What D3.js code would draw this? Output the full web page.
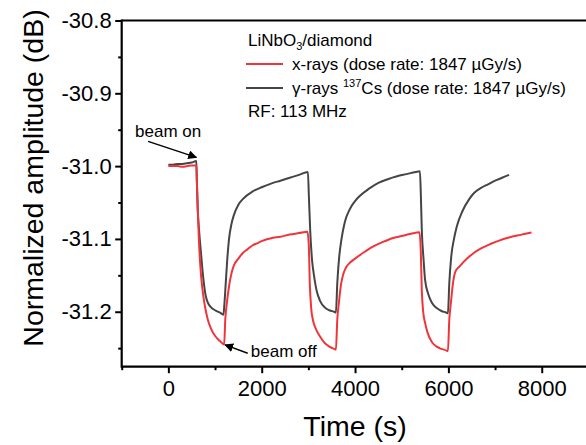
<!DOCTYPE html>
<html>
<head>
<meta charset="utf-8">
<script src="https://cdn.jsdelivr.net/npm/d3@7/dist/d3.min.js"></script>
<style>
  html, body { margin: 0; padding: 0; background: #fff; }
  svg { display: block; font-family: "Liberation Sans", Arial, sans-serif; }
</style>
</head>
<body>
<svg id="chart" width="586" height="445"></svg>
<script>
// ---- data ----
const xrayTime = [0,100,200,300,400,500,600,
  610,630,660,700,750,800,850,900,950,1000,1050,1100,1150,1195,
  1220,1250,1300,1350,1400,1500,1600,1700,1800,1900,2000,2200,2400,2600,2800,2980,
  3010,3030,3060,3100,3150,3250,3350,3450,3550,3590,
  3620,3650,3700,3750,3800,3900,4000,4200,4400,4600,4800,5000,5200,5380,
  5410,5430,5460,5500,5550,5650,5750,5850,5950,5990,
  6020,6050,6100,6150,6250,6400,6550,6700,6900,7100,7300,7500,7650,7780];
const xrayValue = [-31.000,-31.000,-31.000,-31.001,-31.000,-30.999,-30.999,
  -31.020,-31.060,-31.110,-31.150,-31.179,-31.198,-31.212,-31.221,-31.228,-31.233,-31.237,-31.240,-31.243,-31.245,
  -31.210,-31.190,-31.165,-31.148,-31.137,-31.127,-31.119,-31.114,-31.109,-31.106,-31.103,-31.099,-31.097,-31.094,-31.092,-31.090,
  -31.110,-31.160,-31.195,-31.212,-31.222,-31.234,-31.243,-31.248,-31.251,-31.252,
  -31.210,-31.190,-31.162,-31.148,-31.140,-31.132,-31.127,-31.118,-31.110,-31.104,-31.099,-31.096,-31.093,-31.091,
  -31.120,-31.170,-31.200,-31.215,-31.228,-31.242,-31.248,-31.251,-31.253,-31.254,
  -31.210,-31.190,-31.160,-31.145,-31.137,-31.127,-31.119,-31.113,-31.107,-31.102,-31.098,-31.095,-31.093,-31.091];

const gammaTime = [0,100,200,300,400,500,600,
  610,630,660,700,750,800,850,900,1000,1100,1180,
  1200,1230,1260,1300,1350,1400,1500,1600,1800,2000,2200,2400,2600,2800,2990,
  3010,3040,3080,3120,3180,3250,3350,3450,3550,3590,
  3620,3660,3710,3780,3880,4000,4100,4300,4500,4700,4900,5100,5300,5390,
  5410,5430,5470,5500,5570,5650,5750,5850,5950,5990,
  6020,6060,6120,6180,6300,6450,6550,6700,6850,7000,7150,7300];
const gammaValue = [-30.998,-30.998,-30.997,-30.997,-30.996,-30.995,-30.993,
  -31.020,-31.060,-31.090,-31.120,-31.155,-31.178,-31.188,-31.193,-31.198,-31.201,-31.204,
  -31.190,-31.160,-31.130,-31.100,-31.080,-31.068,-31.053,-31.045,-31.035,-31.029,-31.024,-31.020,-31.016,-31.012,-31.008,
  -31.040,-31.090,-31.130,-31.150,-31.172,-31.185,-31.194,-31.198,-31.200,-31.201,
  -31.160,-31.125,-31.100,-31.077,-31.060,-31.048,-31.041,-31.031,-31.023,-31.018,-31.014,-31.011,-31.008,-31.007,
  -31.040,-31.087,-31.130,-31.156,-31.176,-31.188,-31.195,-31.199,-31.201,-31.202,
  -31.160,-31.125,-31.100,-31.083,-31.062,-31.045,-31.037,-31.030,-31.025,-31.020,-31.016,-31.012];

const xMajorTicks = [0, 2000, 4000, 6000, 8000];
const xMinorTicks = [-1000, 1000, 3000, 5000, 7000, 9000];
const yMajorTicks = [-30.8, -30.9, -31.0, -31.1, -31.2];
const yMinorTicks = [-30.85, -30.95, -31.05, -31.15, -31.25];

const seriesNames = ["x-rays (dose rate: 1847 \u00B5Gy/s)", "\u03B3-rays ", "137", "Cs (dose rate: 1847 \u00B5Gy/s)"];

// ---- layout ----
const svg = d3.select("#chart");
const pLeft = 121.7, pRight = 588.4, pTop = 20.5, pBottom = 366.7;
const x = d3.scaleLinear().domain([-1000, 9000]).range([pLeft, pRight]);
const y = d3.scaleLinear().domain([-31.2755, -30.8]).range([pBottom, pTop]);

const RED = "#f0353a", GRAY = "#454545";
const fmtY = d => d3.format(".1f")(d).replace("\u2212", "-");

// frame: top line
svg.append("line").attr("x1", pLeft).attr("x2", pRight).attr("y1", pTop).attr("y2", pTop)
  .attr("stroke", "#000").attr("stroke-width", 2.2);

// x axis
const gx = svg.append("g").attr("transform", `translate(0,${pBottom})`);
gx.call(d3.axisBottom(x).tickValues(xMajorTicks).tickSize(6.5).tickPadding(7).tickFormat(d3.format("d")));
const gxm = svg.append("g").attr("transform", `translate(0,${pBottom})`);
gxm.call(d3.axisBottom(x).tickValues(xMinorTicks).tickSize(3.5).tickFormat(""));

// y axis
const gy = svg.append("g").attr("transform", `translate(${pLeft},0)`);
gy.call(d3.axisLeft(y).tickValues(yMajorTicks).tickSize(6.5).tickPadding(3.5).tickFormat(fmtY));
const gym = svg.append("g").attr("transform", `translate(${pLeft},0)`);
gym.call(d3.axisLeft(y).tickValues(yMinorTicks).tickSize(3.5).tickFormat(""));

[gx, gxm, gy, gym].forEach(g => {
  g.select(".domain").remove();
  g.selectAll(".tick line").attr("stroke-width", 2);
  g.selectAll("text").attr("font-size", 22).attr("font-family", '"Liberation Sans", Arial, sans-serif').attr("fill", "#000");
});
svg.append("line").attr("x1", pLeft).attr("x2", pRight).attr("y1", pBottom).attr("y2", pBottom)
  .attr("stroke", "#000").attr("stroke-width", 2.2);
svg.append("line").attr("x1", pLeft).attr("x2", pLeft).attr("y1", pTop - 1).attr("y2", pBottom + 1)
  .attr("stroke", "#000").attr("stroke-width", 2.2);

// axis titles
svg.append("text").attr("x", (pLeft + pRight) / 2).attr("y", 436).attr("text-anchor", "middle")
  .attr("font-size", 28.5).text("Time (s)");
svg.append("text").attr("transform", "translate(42.5,178) rotate(-90)").attr("text-anchor", "middle")
  .attr("font-size", 28.5).text("Normalized amplitude (dB)");

// lines
const line = d3.line().x(d => x(d[0])).y(d => y(d[1])).curve(d3.curveMonotoneX);
svg.append("path").datum(gammaTime.map((t, i) => [t, gammaValue[i]]))
  .attr("d", line).attr("fill", "none").attr("stroke", GRAY).attr("stroke-width", 2).attr("stroke-linejoin", "round");
svg.append("path").datum(xrayTime.map((t, i) => [t, xrayValue[i]]))
  .attr("d", line).attr("fill", "none").attr("stroke", RED).attr("stroke-width", 2).attr("stroke-linejoin", "round");

// annotations
const defs = svg.append("defs");
defs.append("marker").attr("id", "arr").attr("viewBox", "0 0 10 10").attr("refX", 9).attr("refY", 5)
  .attr("markerWidth", 9).attr("markerHeight", 9).attr("markerUnits", "userSpaceOnUse").attr("orient", "auto")
  .append("path").attr("d", "M0,0 L10,5 L0,10 Z").attr("fill", "#000");

const annotations = [
  { text: "beam on", tx: -714, ty: -30.96, x1: -435, y1: -30.966, x2: 600, y2: -30.988 },
  { text: "beam off", tx: 1766, ty: -31.262, x1: 1700, y1: -31.257, x2: 1215, y2: -31.2455 }
];
annotations.forEach(a => {
  svg.append("text").attr("x", x(a.tx)).attr("y", y(a.ty)).attr("font-size", 17).text(a.text);
  svg.append("line").attr("x1", x(a.x1)).attr("y1", y(a.y1)).attr("x2", x(a.x2)).attr("y2", y(a.y2))
    .attr("stroke", "#000").attr("stroke-width", 1.5).attr("marker-end", "url(#arr)");
});

// legend
const lg = svg.append("g").attr("font-size", 17);
const t0 = lg.append("text").attr("x", 248).attr("y", 46);
t0.append("tspan").text("LiNbO");
t0.append("tspan").attr("font-size", 11).attr("dy", 4).text("3");
t0.append("tspan").attr("dy", -4).text("/diamond");

lg.append("line").attr("x1", 246).attr("x2", 283).attr("y1", 64).attr("y2", 64).attr("stroke", RED).attr("stroke-width", 2);
lg.append("text").attr("x", 292).attr("y", 70).text(seriesNames[0]);

lg.append("line").attr("x1", 246).attr("x2", 283).attr("y1", 88).attr("y2", 88).attr("stroke", GRAY).attr("stroke-width", 2);
const t2 = lg.append("text").attr("x", 292).attr("y", 94);
t2.append("tspan").text(seriesNames[1]);
t2.append("tspan").attr("font-size", 11).attr("dy", -7).text(seriesNames[2]);
t2.append("tspan").attr("dy", 7).text(seriesNames[3]);

lg.append("text").attr("x", 248).attr("y", 117).text("RF: 113 MHz");
</script>
</body>
</html>
